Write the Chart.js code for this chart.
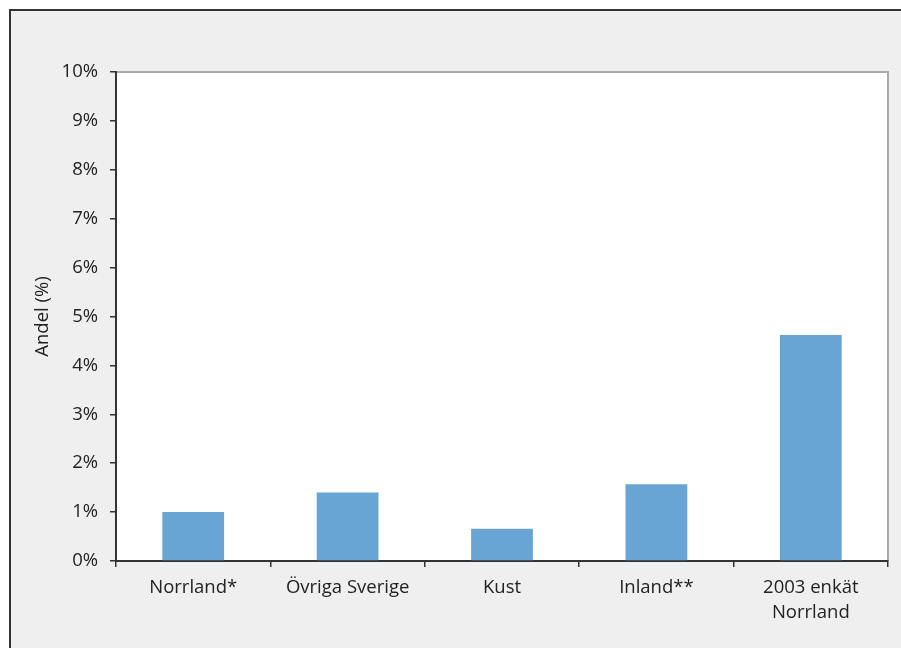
<!DOCTYPE html>
<html>
<head>
<meta charset="utf-8">
<title>Andel (%)</title>
<script src="https://cdn.jsdelivr.net/npm/chart.js@4.4.1/dist/chart.umd.min.js"></script>
<style>
  html, body { margin: 0; padding: 0; background: #fff; }
  #wrap { position: relative; width: 901px; height: 648px; overflow: hidden; }
  #frame {
    position: absolute; left: 9px; top: 9px; width: 920px; height: 680px;
    background: #efefef; border-top: 2px solid #333; border-left: 2px solid #333;
  }
  #chart { position: absolute; left: 0; top: 0; }
</style>
</head>
<body>
<div id="wrap">
  <div id="frame"></div>
  <canvas id="chart" width="901" height="648"></canvas>
</div>
<script>
// Andel per område, procent
const categories = ["Norrland*", "Övriga Sverige", "Kust", "Inland**", ["2003 enkät", "Norrland"]];
const shares = [1.0, 1.4, 0.66, 1.57, 4.62];
const yTicks = [0, 1, 2, 3, 4, 5, 6, 7, 8, 9, 10];

const FONT = "'Open Sans', 'Lato', sans-serif";
const INK = "#222";

// white plot background with a thin grey edge on top and right
const plotFrame = {
  id: "plotFrame",
  beforeDraw(chart) {
    const { ctx, chartArea: a } = chart;
    ctx.save();
    ctx.fillStyle = "#fff";
    ctx.fillRect(a.left, a.top, a.right - a.left, a.bottom - a.top);
    ctx.strokeStyle = "#aaa";
    ctx.lineWidth = 2;
    ctx.beginPath();
    ctx.moveTo(a.left, a.top);
    ctx.lineTo(a.right, a.top);
    ctx.lineTo(a.right, a.bottom);
    ctx.stroke();
    ctx.restore();
  }
};

const ctx = document.getElementById("chart").getContext("2d");
new Chart(ctx, {
  type: "bar",
  data: {
    labels: categories,
    datasets: [{
      label: "Andel (%)",
      data: shares,
      backgroundColor: "#69a5d4",
      borderWidth: 0,
      barPercentage: 0.4,
      categoryPercentage: 1.0
    }]
  },
  options: {
    responsive: false,
    animation: false,
    layout: { padding: { top: 72, right: 13, left: 0, bottom: 0 } },
    plugins: {
      legend: { display: false },
      tooltip: { enabled: false }
    },
    scales: {
      x: {
        offset: true,
        afterFit: (s) => { s.height = 87; },
        grid: { offset: true, drawOnChartArea: false, tickLength: 6, color: "#333", lineWidth: 1.5 },
        border: { display: true, color: "#333", width: 2 },
        ticks: {
          color: INK, padding: 8, maxRotation: 0, autoSkip: false,
          font: { family: FONT, size: 18.5, lineHeight: 1.35 }
        }
      },
      y: {
        min: 0,
        max: 10,
        afterFit: (s) => { s.width = 116; },
        afterBuildTicks: (s) => { s.ticks = yTicks.map(v => ({ value: v })); },
        grid: { drawOnChartArea: false, tickLength: 6, color: "#333", lineWidth: 1.5 },
        border: { display: true, color: "#333", width: 2 },
        ticks: {
          color: INK, padding: 12,
          font: { family: FONT, size: 18.5 },
          callback: (v) => v + "%"
        },
        title: {
          display: true, text: "Andel (%)", color: INK,
          font: { family: FONT, size: 18.5, lineHeight: 1.2 },
          padding: { top: 32, bottom: 0 }
        }
      }
    }
  },
  plugins: [plotFrame]
});
</script>
</body>
</html>
